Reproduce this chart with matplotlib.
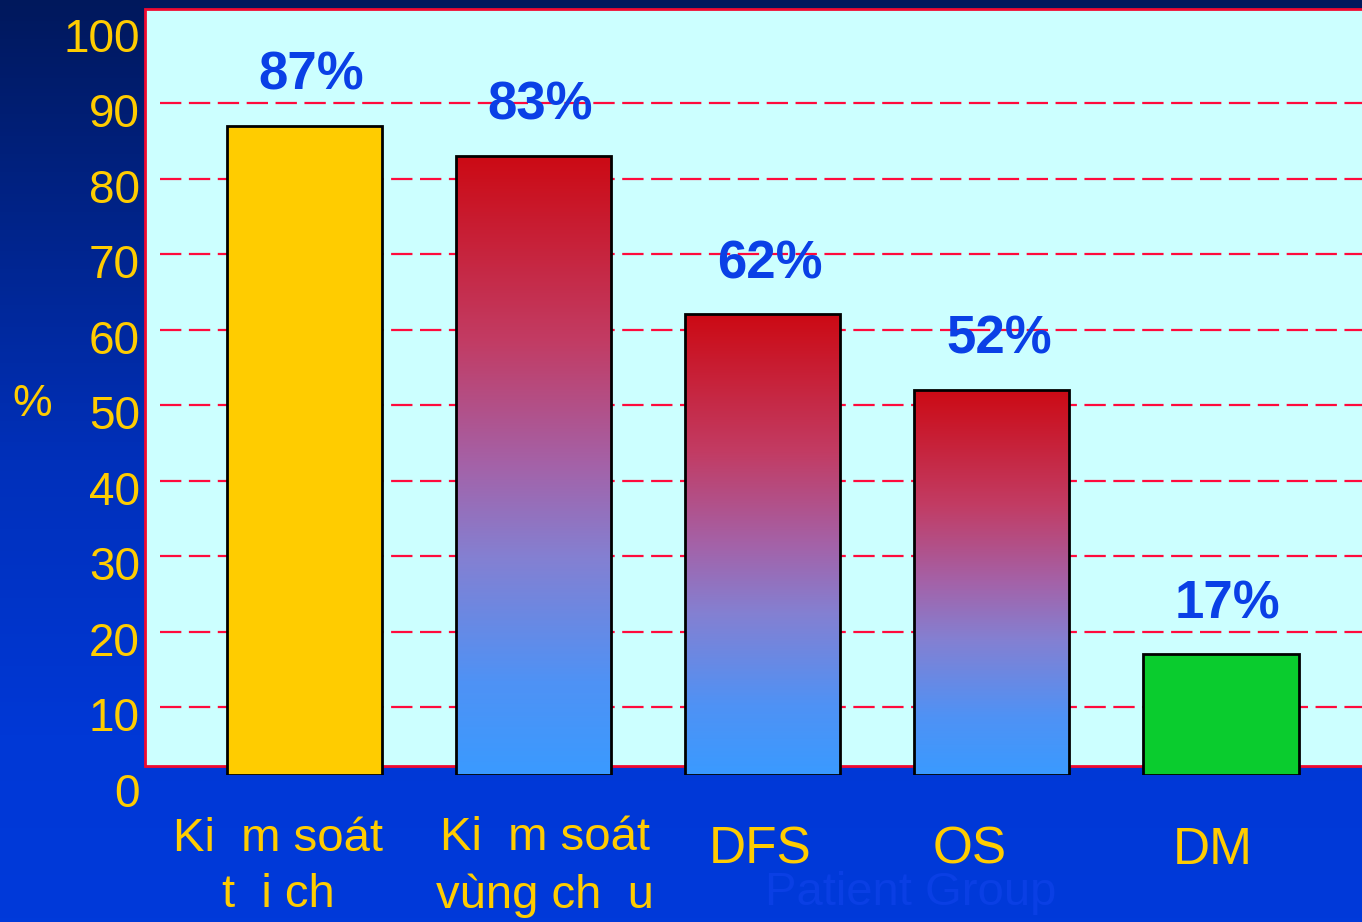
import numpy as np
import matplotlib
matplotlib.use("Agg")
import matplotlib.pyplot as plt
from matplotlib.colors import LinearSegmentedColormap
from matplotlib.patches import Rectangle
from matplotlib.transforms import ScaledTranslation, blended_transform_factory

# control / survival rates per endpoint
categories = ["Ki  m soát\nt  i ch", "Ki  m soát\nvùng ch  u", "DFS", "OS", "DM"]
rates = [87, 83, 62, 52, 17]
y_ticks = list(range(0, 101, 10))
grid_levels = list(range(10, 91, 10))

plt.rcParams["font.family"] = ["Liberation Sans", "DejaVu Sans"]

YELLOW = "#FFCC00"
LABEL_BLUE = "#0A40E6"
GRID_RED = "#FF0A3C"
bar_fills = [YELLOW, None, None, None, "#0ACC2E"]  # None -> red/blue fade
label_sizes = [34, 34, 37, 37, 37]
label_dx = [-26, 11, -3, -22, -8]  # pixel nudges for the category names

fig = plt.figure(figsize=(13.62, 9.22), dpi=100)

# slide backdrop, dark navy on top fading to bright blue
bg = fig.add_axes([0, 0, 1, 1], zorder=-10)
bg_cmap = LinearSegmentedColormap.from_list(
    "bg", [(0, "#00185C"), (0.5, "#0030BA"), (0.8, "#0038D6"), (1, "#003ADA")])
bg.imshow(np.linspace(0, 1, 256)[:, None], cmap=bg_cmap, aspect="auto",
          extent=[0, 1, 0, 1], origin="upper")
bg.axis("off")

ax = fig.add_axes([145 / 1362, 147 / 922, 1235 / 1362, 767 / 922])
ax.set_facecolor("none")
for s in ax.spines.values():
    s.set_visible(False)
ax.set_xticks([])
ax.set_yticks([])

x_lo, x_hi = -0.696, 4.694
y_lo, y_hi = 1.0, 102.6
base = 1.0
width = 0.677

# light cyan plotting area with red frame
ax.add_patch(Rectangle((x_lo, 2.2), x_hi - x_lo + 1, 100.3, facecolor="#CCFFFF",
                       edgecolor="#F00A30", linewidth=2, zorder=0, clip_on=False))

ax.hlines(grid_levels, -0.63, x_hi, colors=GRID_RED, linewidth=1.6,
          linestyles=(0, (9.6, 3.4)), zorder=1)

bar_cmap = LinearSegmentedColormap.from_list(
    "fade", [(0, "#CC0A14"), (0.3, "#C23C64"), (0.5, "#A462A8"),
             (0.65, "#8480D2"), (0.85, "#4F92F5"), (1, "#3A9AFF")])

x = np.arange(len(rates))
heights = np.array(rates, dtype=float) - base
bars = ax.bar(x, heights, bottom=base, width=width,
              color=[c if c else "none" for c in bar_fills],
              edgecolor="black", linewidth=2, zorder=3)

for xi, v, bar, fill in zip(x, rates, bars, bar_fills):
    if fill is None:
        im = ax.imshow(np.linspace(0, 1, 256)[:, None], cmap=bar_cmap, aspect="auto",
                       origin="upper", extent=[xi - width / 2, xi + width / 2, base, v],
                       zorder=2.5)
        im.set_clip_path(bar)
    ax.annotate(f"{v}%", (xi, v), xytext=(5, 36), textcoords="offset points",
                ha="center", va="center", fontsize=38, fontweight="bold",
                color=LABEL_BLUE, zorder=4)

ax.set_xlim(x_lo, x_hi)
ax.set_ylim(y_lo, y_hi)

# y tick labels sit a little below their grid lines
tick_tr = blended_transform_factory(ax.transAxes, ax.transData) + \
    ScaledTranslation(-0.05, -0.12, fig.dpi_scale_trans)
for t in y_ticks:
    ax.text(0, t, str(t), transform=tick_tr, ha="right", va="center",
            fontsize=33, color=YELLOW, clip_on=False)

fig.text(32 / 1362, 1 - 405 / 922, "%", ha="center", va="center",
         fontsize=32, color=YELLOW)

for xi, name, fs, dx in zip(x, categories, label_sizes, label_dx):
    tr = blended_transform_factory(ax.transData, fig.transFigure) + \
        ScaledTranslation(dx / 100, 0, fig.dpi_scale_trans)
    y_mid = 1 - (867 if "\n" in name else 850) / 922
    ax.text(xi, y_mid, name, transform=tr, ha="center", va="center",
            fontsize=fs, color=YELLOW, linespacing=1.38, clip_on=False)

fig.text(911 / 1362, 1 - 893 / 922, "Patient Group", ha="center", va="center",
         fontsize=34, color="#0A3FE4")

fig.savefig("out.png", dpi=100)
